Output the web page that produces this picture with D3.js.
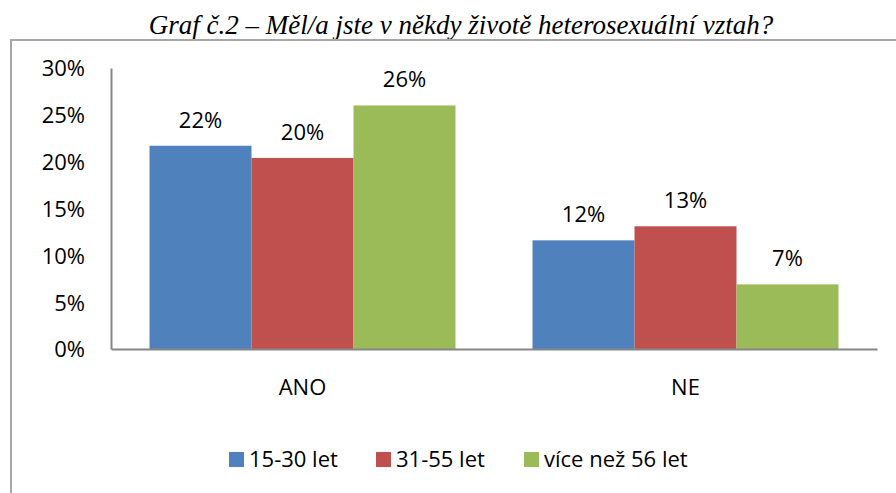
<!DOCTYPE html>
<html>
<head>
<meta charset="utf-8">
<script src="https://cdn.jsdelivr.net/npm/d3@7"></script>
<style>
  body { margin: 0; background: #fff; }
  svg { display: block; }
</style>
</head>
<body>
<div id="chart"></div>
<script>
// data
const categories = ['ANO', 'NE'];
const seriesNames = ['15-30 let', '31-55 let', 'více než 56 let'];
const seriesColors = ['#4F81BD', '#C0504D', '#9BBB59'];
const valuesANO = [21.7, 20.4, 26.0];
const valuesNE = [11.6, 13.1, 6.9];
const valueLabelsANO = ['22%', '20%', '26%'];
const valueLabelsNE = ['12%', '13%', '7%'];
const yTicks = [0, 5, 10, 15, 20, 25, 30];
const titleText = 'Graf č.2 – Měl/a jste v někdy životě heterosexuální vztah?';

const width = 896, height = 493;
const plot = { left: 111, right: 877, top: 68, bottom: 349 };
const font = '"Open Sans", sans-serif';

const rows = categories.map((c, i) => ({
  cat: c,
  values: i === 0 ? valuesANO : valuesNE,
  labels: i === 0 ? valueLabelsANO : valueLabelsNE
}));

const svg = d3.select('#chart').append('svg')
  .attr('width', width)
  .attr('height', height);

// title
svg.append('text')
  .attr('x', 461)
  .attr('y', 34)
  .attr('text-anchor', 'middle')
  .style('font-family', '"Liberation Serif", "Times New Roman", serif')
  .style('font-style', 'italic')
  .style('font-size', '27px')
  .style('fill', '#000')
  .text(titleText);

// frame of chart area (runs off the page right and bottom)
svg.append('rect')
  .attr('x', 11)
  .attr('y', 40)
  .attr('width', 900)
  .attr('height', 500)
  .attr('fill', 'none')
  .attr('stroke', '#a6a6a6')
  .attr('stroke-width', 2);

// scales
const x0 = d3.scaleBand()
  .domain(categories)
  .range([plot.left, plot.right])
  .padding(0);
const x1 = d3.scaleBand()
  .domain(seriesNames)
  .range([38.5, x0.bandwidth() - 38.5])
  .padding(0);
const y = d3.scaleLinear()
  .domain([0, 30])
  .range([plot.bottom, plot.top]);

// bars
const groups = svg.selectAll('.grp')
  .data(rows)
  .enter()
  .append('g')
  .attr('class', 'grp')
  .attr('transform', d => `translate(${x0(d.cat)},0)`);

groups.selectAll('rect')
  .data(d => d.values.map((v, i) => ({ v, i, label: d.labels[i] })))
  .enter()
  .append('rect')
  .attr('x', d => x1(seriesNames[d.i]))
  .attr('y', d => y(d.v))
  .attr('width', x1.bandwidth())
  .attr('height', d => y(0) - y(d.v))
  .attr('fill', d => seriesColors[d.i]);

// value labels
groups.selectAll('.lbl')
  .data(d => d.values.map((v, i) => ({ v, i, label: d.labels[i] })))
  .enter()
  .append('text')
  .attr('class', 'lbl')
  .attr('x', d => x1(seriesNames[d.i]) + x1.bandwidth() / 2)
  .attr('y', d => y(d.v) - 18)
  .attr('text-anchor', 'middle')
  .style('font-family', font)
  .style('font-size', '22px')
  .style('fill', '#000')
  .text(d => d.label);

// y axis
const yAxis = svg.append('g')
  .attr('transform', `translate(${plot.left},0)`)
  .call(d3.axisLeft(y).tickValues(yTicks).tickSize(0).tickPadding(26).tickFormat(d => d + '%'));
yAxis.select('.domain').attr('stroke', '#868686').attr('stroke-width', 2);
yAxis.selectAll('text')
  .style('font-family', font)
  .style('font-size', '22px')
  .style('fill', '#000')
  .attr('dy', '0.36em');

// x axis
const xAxis = svg.append('g')
  .attr('transform', `translate(0,${plot.bottom})`)
  .call(d3.axisBottom(x0).tickSize(0).tickPadding(30));
xAxis.select('.domain').attr('stroke', '#868686').attr('stroke-width', 2);
xAxis.selectAll('text')
  .style('font-family', font)
  .style('font-size', '22px')
  .style('fill', '#000');

// legend
const legendX = [229, 376, 524];
const legend = svg.selectAll('.leg')
  .data(seriesNames)
  .enter()
  .append('g')
  .attr('class', 'leg')
  .attr('transform', (d, i) => `translate(${legendX[i]},452)`);
legend.append('rect')
  .attr('width', 15)
  .attr('height', 15)
  .attr('fill', (d, i) => seriesColors[i]);
legend.append('text')
  .attr('x', 20)
  .attr('y', 15)
  .style('font-family', font)
  .style('font-size', '22px')
  .style('fill', '#000')
  .text(d => d);
</script>
</body>
</html>
